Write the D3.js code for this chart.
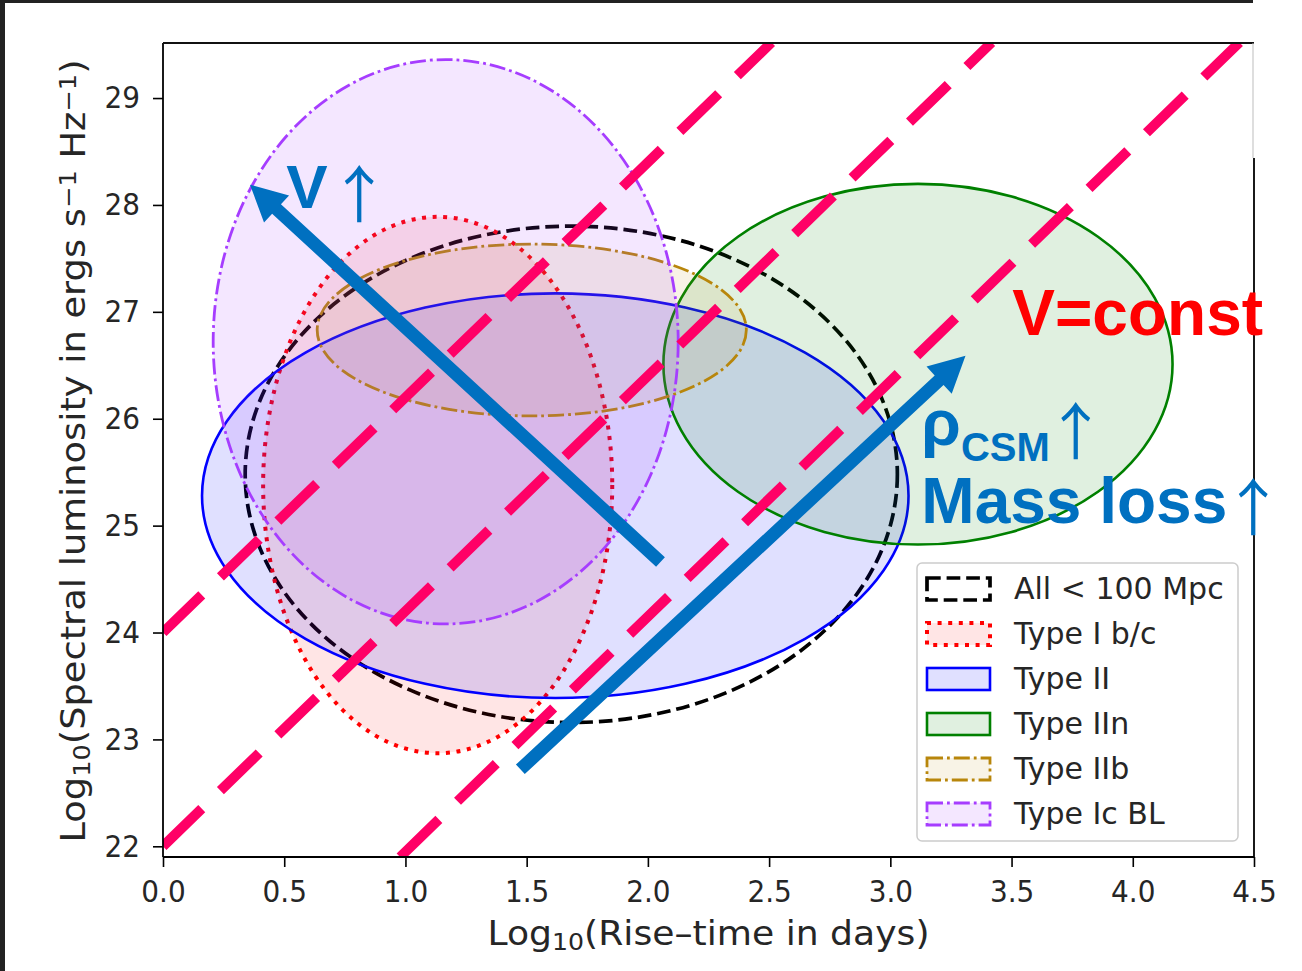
<!DOCTYPE html>
<html>
<head>
<meta charset="utf-8">
<script src="https://cdn.jsdelivr.net/npm/d3@7"></script>
<style>
  body { margin: 0; background: #fff; }
  svg { display: block; }
</style>
</head>
<body>
<script>
// ---- data -------------------------------------------------------------
const xTicks = [0, 0.5, 1, 1.5, 2, 2.5, 3, 3.5, 4, 4.5];
const yTicks = [22, 23, 24, 25, 26, 27, 28, 29];

// supernova classes: ellipse centres and semi-axes (log10 rise time, log10 L)
const groups  = ["All < 100 Mpc", "Type I b/c", "Type II", "Type IIn", "Type IIb", "Type Ic BL"];
const centerX = [1.684, 1.133, 1.618, 3.114, 1.521, 1.166];
const centerY = [25.48, 25.38, 25.28, 26.51, 26.83, 26.72];
const radiusX = [1.345, 0.720, 1.457, 1.050, 0.885, 0.959];
const radiusY = [2.322, 2.509, 1.893, 1.687, 0.804, 2.640];

// constant-velocity guide lines (start and end points)
const guideStartX = [0, 0, 0.978];
const guideStartY = [24, 22, 21.9];
const guideEndX   = [2.51, 3.418, 4.44];
const guideEndY   = [29.52, 29.52, 29.52];

// trend arrows (tail -> tip)
const arrowTailX = [2.052, 1.474];
const arrowTailY = [24.66, 22.72];
const arrowTipX  = [0.359, 3.310];
const arrowTipY  = [28.19, 26.59];

// ---- styles -----------------------------------------------------------
const strokeColors = ["#000000", "#ff0000", "#0000ff", "#008000", "#b8860b", "#a63dff"];
const fillColors   = ["none", "rgba(255,0,0,0.10)", "rgba(0,0,255,0.12)", "rgba(0,128,0,0.12)",
                      "rgba(184,134,11,0.10)", "rgba(166,61,255,0.12)"];
const strokeWidths = [3.7, 4, 2.6, 2.6, 2.8, 2.8];
const strokeDashes = ["13.7,5.9", "4,6.6", null, null, "16,4,2.8,4", "16,4,2.8,4"];

const W = 1302, H = 971;
const plot = { left: 163, right: 1254, top: 43, bottom: 857 };
const tickFont = "'DejaVu Sans', sans-serif";
const annFont = "'Liberation Sans', Arial, sans-serif";
const arrowFont = "'Noto Sans CJK SC', 'DejaVu Sans', sans-serif";
const blue = "#0070c0";

const svg = d3.select("body").append("svg")
  .attr("width", W).attr("height", H)
  .style("background", "#fff");

const x = d3.scaleLinear().domain([0, 4.5]).range([plot.left, plot.right]);
const y = d3.scaleLinear().domain([21.9, 29.515]).range([plot.bottom, plot.top]);

svg.append("defs").append("clipPath").attr("id", "plotClip")
  .append("rect")
  .attr("x", plot.left).attr("y", plot.top)
  .attr("width", plot.right - plot.left).attr("height", plot.bottom - plot.top);

// ---- ellipses ---------------------------------------------------------
const body = svg.append("g").attr("clip-path", "url(#plotClip)");

groups.forEach((g, i) => {
  body.append("ellipse")
    .attr("cx", x(centerX[i]))
    .attr("cy", y(centerY[i]))
    .attr("rx", x(radiusX[i]) - x(0))
    .attr("ry", y(0) - y(radiusY[i]))
    .attr("fill", fillColors[i])
    .attr("stroke", strokeColors[i])
    .attr("stroke-width", strokeWidths[i])
    .attr("stroke-dasharray", strokeDashes[i]);
});

// ---- constant-velocity guide lines -----------------------------------
guideStartX.forEach((sx, i) => {
  body.append("line")
    .attr("x1", x(sx)).attr("y1", y(guideStartY[i]))
    .attr("x2", x(guideEndX[i])).attr("y2", y(guideEndY[i]))
    .attr("stroke", "#ff0066")
    .attr("stroke-width", 10)
    .attr("stroke-dasharray", "54,26");
});

// ---- trend arrows ----------------------------------------------------
function arrowPath(x0, y0, x1, y1, shaft, headLen, headW) {
  const dx = x1 - x0, dy = y1 - y0, L = Math.hypot(dx, dy);
  const ux = dx / L, uy = dy / L, nx = -uy, ny = ux;
  const bx = x1 - ux * headLen, by = y1 - uy * headLen;
  const p = [
    [x0 + nx * shaft / 2, y0 + ny * shaft / 2],
    [bx + nx * shaft / 2, by + ny * shaft / 2],
    [bx + nx * headW / 2, by + ny * headW / 2],
    [x1, y1],
    [bx - nx * headW / 2, by - ny * headW / 2],
    [bx - nx * shaft / 2, by - ny * shaft / 2],
    [x0 - nx * shaft / 2, y0 - ny * shaft / 2]
  ];
  return "M" + p.map(q => q.join(",")).join("L") + "Z";
}
arrowTailX.forEach((tx, i) => {
  body.append("path")
    .attr("d", arrowPath(x(tx), y(arrowTailY[i]), x(arrowTipX[i]), y(arrowTipY[i]), 13, 36, 37))
    .attr("fill", blue);
});

// ---- axes -------------------------------------------------------------
const xAxis = svg.append("g")
  .attr("transform", `translate(0,${plot.bottom})`)
  .call(d3.axisBottom(x).tickValues(xTicks).tickFormat(d3.format(".1f"))
    .tickSize(10).tickPadding(13));
const yAxis = svg.append("g")
  .attr("transform", `translate(${plot.left},0)`)
  .call(d3.axisLeft(y).tickValues(yTicks).tickFormat(d3.format("d"))
    .tickSize(10).tickPadding(15.5));

[xAxis, yAxis].forEach(a => {
  a.select(".domain").remove();
  a.selectAll(".tick line").attr("stroke", "#000").attr("stroke-width", 1.6);
  a.selectAll(".tick text")
    .attr("fill", "#262626")
    .style("font-family", tickFont)
    .style("font-size", "31px")
    .attr("transform", "scale(0.9,1)");
});

// spines
const spine = svg.append("g").attr("stroke-width", 1.8).attr("fill", "none");
spine.append("line").attr("x1", plot.left).attr("x2", plot.left)
  .attr("y1", plot.top).attr("y2", plot.bottom).attr("stroke", "#000");
spine.append("line").attr("x1", plot.left).attr("x2", plot.right)
  .attr("y1", plot.bottom).attr("y2", plot.bottom).attr("stroke", "#000");
spine.append("line").attr("x1", plot.left).attr("x2", plot.right)
  .attr("y1", plot.top).attr("y2", plot.top).attr("stroke", "#111");
spine.append("line").attr("x1", plot.right - 1).attr("x2", plot.right - 1)
  .attr("y1", plot.top).attr("y2", 158).attr("stroke", "#bdbdbd").attr("stroke-width", 1);
spine.append("line").attr("x1", plot.right).attr("x2", plot.right)
  .attr("y1", 158).attr("y2", plot.bottom).attr("stroke", "#000");

// axis titles
const xTitle = svg.append("text")
  .attr("x", (plot.left + plot.right) / 2).attr("y", 945)
  .attr("text-anchor", "middle")
  .attr("fill", "#262626")
  .style("font-family", tickFont).style("font-size", "33px")
  .attr("textLength", 442).attr("lengthAdjust", "spacingAndGlyphs");
xTitle.append("tspan").text("Log");
xTitle.append("tspan").attr("baseline-shift", "-22%").style("font-size", "23px").text("10");
xTitle.append("tspan").text("(Rise–time in days)");

const yTitle = svg.append("text")
  .attr("transform", `translate(85,${(plot.top + plot.bottom) / 2 + 1}) rotate(-90)`)
  .attr("text-anchor", "middle")
  .attr("fill", "#262626")
  .style("font-family", tickFont).style("font-size", "33px")
  .attr("textLength", 783).attr("lengthAdjust", "spacingAndGlyphs");
yTitle.append("tspan").text("Log");
yTitle.append("tspan").attr("baseline-shift", "-22%").style("font-size", "23px").text("10");
yTitle.append("tspan").text("(Spectral luminosity in ergs s");
yTitle.append("tspan").attr("baseline-shift", "40%").style("font-size", "23px").text("−1");
yTitle.append("tspan").text(" Hz");
yTitle.append("tspan").attr("baseline-shift", "40%").style("font-size", "23px").text("−1");
yTitle.append("tspan").text(")");

// ---- legend -----------------------------------------------------------
const legend = svg.append("g");
legend.append("rect")
  .attr("x", 917).attr("y", 563).attr("width", 321).attr("height", 278)
  .attr("rx", 5)
  .attr("fill", "rgba(255,255,255,0.8)")
  .attr("stroke", "#cccccc").attr("stroke-width", 1.5);
groups.forEach((g, i) => {
  const cy = 589 + i * 45;
  legend.append("rect")
    .attr("x", 927).attr("y", cy - 11).attr("width", 63).attr("height", 22)
    .attr("fill", fillColors[i] === "none" ? "none" : fillColors[i])
    .attr("stroke", strokeColors[i])
    .attr("stroke-width", strokeWidths[i])
    .attr("stroke-dasharray", strokeDashes[i]);
  legend.append("text")
    .attr("x", 1014).attr("y", cy + 10)
    .attr("fill", "#262626")
    .style("font-family", tickFont).style("font-size", "30px")
    .text(g);
});

// ---- annotations ------------------------------------------------------
const vText = svg.append("text")
  .attr("x", x(0.508)).attr("y", y(27.972))
  .attr("fill", blue).style("font-family", annFont);
vText.append("tspan").style("font-size", "62px").style("font-weight", "bold").text("V");
vText.append("tspan").attr("x", x(0.682)).attr("dy", 10)
  .style("font-family", arrowFont)
  .style("font-size", "62px").style("font-weight", "normal").text("↑");

svg.append("text")
  .attr("x", x(3.503)).attr("y", y(26.785))
  .attr("fill", "#ff0000")
  .style("font-family", annFont).style("font-size", "64px").style("font-weight", "bold")
  .text("V=const");

const rho = svg.append("text")
  .attr("x", x(3.128)).attr("y", y(25.757))
  .attr("fill", blue).style("font-family", annFont).style("font-weight", "bold");
rho.append("tspan").style("font-size", "64px").text("ρ");
rho.append("tspan").attr("dy", 16).style("font-size", "40px").text("CSM");
rho.append("tspan").attr("dy", -6).attr("dx", -5)
  .style("font-family", arrowFont)
  .style("font-size", "62px").style("font-weight", "normal").text("↑");

const mass = svg.append("text")
  .attr("x", x(3.128)).attr("y", y(25.028))
  .attr("fill", blue).style("font-family", annFont).style("font-weight", "bold");
mass.append("tspan").style("font-size", "64px").text("Mass loss");
mass.append("tspan").attr("dy", 8).attr("dx", -5)
  .style("font-family", arrowFont)
  .style("font-size", "62px").style("font-weight", "normal").text("↑");

// ---- outer frame ------------------------------------------------------
svg.append("rect").attr("x", 0).attr("y", 0).attr("width", 1253).attr("height", 3).attr("fill", "#222");
svg.append("rect").attr("x", 0).attr("y", 0).attr("width", 5).attr("height", H).attr("fill", "#222");
</script>
</body>
</html>
